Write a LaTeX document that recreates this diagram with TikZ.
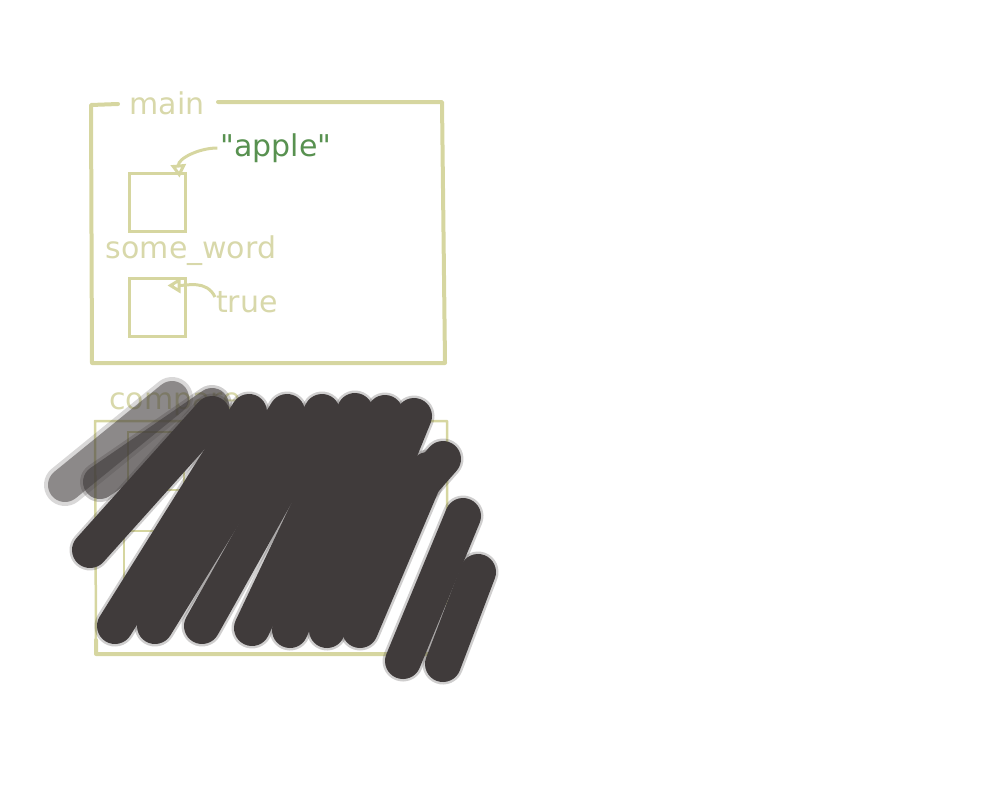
\documentclass[tikz,border=0pt]{standalone}
\usepackage{fontspec}
\setmainfont{DejaVu Sans}[Ligatures=TeXOff]
\usetikzlibrary{arrows.meta}
\definecolor{framecol}{RGB}{214,214,160}
\definecolor{wordcol}{RGB}{216,216,170}
\definecolor{applecol}{RGB}{88,145,80}
\definecolor{scribcol}{RGB}{64,59,59}
\begin{document}
\begin{tikzpicture}[x=1pt,y=1pt,
  lbl/.style={inner sep=0pt,text=wordcol,font=\fontsize{30}{35}\selectfont},
  slot/.style={draw=framecol,line width=3pt,minimum width=56pt,minimum height=58pt,inner sep=0pt},
  link/.style={draw=framecol,line width=3pt,-{Triangle[open,length=13pt,width=15pt]}},
  frame/.style={draw=framecol,line width=4pt,line cap=round,line join=round},
  scrib/.style={draw=scribcol,line cap=round,line join=round}]
\useasboundingbox (0,0) rectangle (1000,-800);
\node [lbl] (main) at (167,-103) {main};
\draw [frame] (118,-104) -- (91,-105) -- (92,-363) -- (445,-363) -- (442,-102) -- (218,-102);
\node [slot] (w1) at (157,-202) {};
\node [lbl] (word) at (191,-251) {some\_word};
\node [slot] (w2) at (157,-307) {};
\node [lbl,text=applecol] (apple) at (276,-148) {"apple"};
\node [lbl] (true) at (247,-302) {true};
\draw [link] ([xshift=-3pt]apple.west) to[out=180,in=95] ([xshift=-7pt,yshift=-6pt]w1.north east);
\draw [link] ([xshift=-1pt,yshift=-6pt]true.north west) to[out=115,in=0] ([xshift=-19pt,yshift=-9pt]w2.north east);
\node [lbl] (compare) at (175,-404) {compare};
\draw [frame,line width=2.5pt] (96,-640) -- (95,-421) -- (447,-421) -- (447,-640);
\draw [frame] (96,-640) -- (96,-654) -- (445,-654) -- (447,-640);
\node [slot,line width=2pt] (c1) at (156,-461) {};
\node [slot,line width=2pt] (c2) at (152,-560) {};
\draw [scrib,line width=42pt,opacity=0.2] (65,-485) -- (172,-398);
\draw [scrib,line width=34pt,opacity=0.5] (65,-485) -- (172,-398);
\draw [scrib,line width=40pt,opacity=0.25] (100,-482) -- (212,-405);
\draw [scrib,line width=34pt,opacity=0.6] (100,-482) -- (212,-405);
\foreach \w/\o in {41/0.25,36/1}{
  \foreach \xa/\ya/\xb/\yb in {90/550/212/414, 115/626/249/412, 155/626/287/412, 202/626/322/412,
    252/628/355/411, 290/630/385/413, 327/630/414/416, 360/630/428/470, 370/542/443/459,
    403/661/463/516, 443/664/478/572}
    \draw [scrib,line width=\w pt,opacity=\o] (\xa,-\ya) -- (\xb,-\yb);
}
\end{tikzpicture}
\end{document}
